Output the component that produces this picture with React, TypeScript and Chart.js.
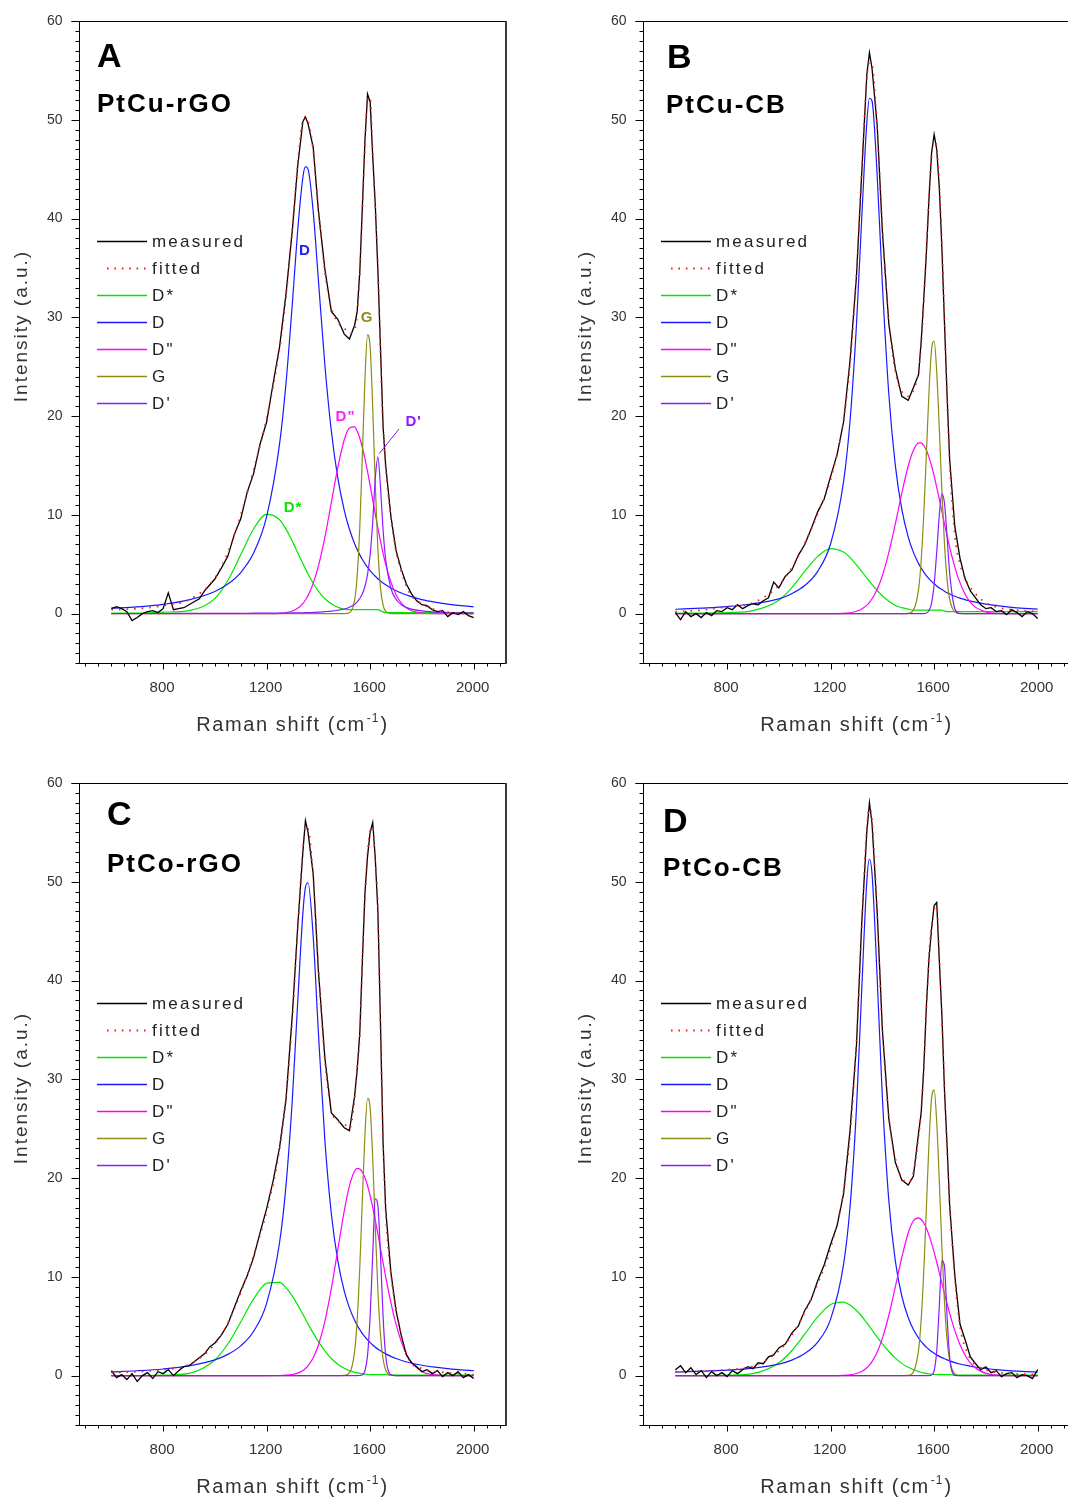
import React, { useEffect, useRef } from "react";
import { Chart, registerables } from "chart.js";

Chart.register(...registerables);

// ---------- shared axes / grids ----------
const X = [600, 700, 800, 900, 1000, 1050, 1100, 1150, 1200, 1250, 1275, 1300, 1320, 1340, 1350, 1360, 1380, 1400, 1425, 1450, 1475, 1500, 1520, 1540, 1550, 1560, 1570, 1580, 1590, 1600, 1610, 1620, 1630, 1640, 1650, 1660, 1680, 1700, 1725, 1750, 1800, 1850, 1900, 1950, 2000];
const MX = [600, 620, 640, 660, 680, 700, 720, 740, 760, 780, 800, 820, 840, 860, 880, 900, 920, 940, 960, 980, 1000, 1025, 1050, 1075, 1100, 1125, 1150, 1175, 1200, 1225, 1250, 1275, 1300, 1320, 1340, 1350, 1360, 1380, 1400, 1425, 1450, 1475, 1500, 1520, 1540, 1550, 1560, 1570, 1580, 1590, 1600, 1610, 1620, 1630, 1640, 1650, 1660, 1680, 1700, 1720, 1740, 1760, 1780, 1800, 1820, 1840, 1860, 1880, 1900, 1920, 1940, 1960, 1980, 2000];

const X_MIN = 475, X_MAX = 2125, Y_MIN = -5, Y_MAX = 60;
const X_LABEL_TICKS = [800, 1200, 1600, 2000];
const Y_LABEL_TICKS = [0, 10, 20, 30, 40, 50, 60];
const X_MINOR = { from: 500, to: 2100, step: 50 };
const Y_MINOR_STEP = 1;
const SERIES_LABELS = ["measured", "fitted", "D*", "D", 'D"', "G", "D'"];

// ---------- Panel A : PtCu-rGO ----------
const A_MEASURED = [0.5, 0.7, 0.5, 0.2, -0.7, -0.4, 0.0, 0.2, 0.3, 0.1, 0.5, 2.1, 0.4, 0.5, 0.6, 0.9, 1.2, 1.5, 2.3, 2.9, 3.5,
  4.6, 5.8, 8.0, 9.6, 12.3, 14.2, 17.2, 19.4, 23.3, 27.0, 32.4, 39.0,
  45.3, 49.8, 50.3, 49.6, 47.2, 40.8,
  34.9, 30.6, 29.8, 28.3,
  27.8, 29.2,
  30.6, 34.6, 41.2, 47.9, 52.6, 51.8, 46.3, 41.3, 34.7, 26.9, 19.0, 15.0,
  9.9, 6.4, 4.5, 3.0, 2.0, 1.3, 0.9, 0.8, 0.4, 0.2, 0.3, -0.3, 0.1, -0.1, 0.2, -0.2, -0.4];
const A_FITTED = [0.4, 0.5, 0.8, 1.4, 3.6, 6.2, 10.0, 14.6, 19.8, 26.8, 32.1, 39.2, 45.6, 50.0, 50.3, 49.9, 46.9, 41.0, 34.6, 31.0, 29.5, 28.9, 28.4, 28.7,
  30.4, 34.4, 40.8, 47.6, 51.9, 52.3, 46.5, 41.0, 35.0, 26.5, 18.8, 14.8, 9.8, 6.3, 3.9, 2.2, 1.0, 0.4, 0.15, 0.05, 0.0];
const A_DSTAR = [0.05, 0.05, 0.15, 0.3, 1.52, 3.35, 5.96, 8.59, 10.04, 9.5, 8.55, 7.29, 6.18, 5.07, 4.53, 4.02, 3.08, 2.28, 1.5, 1.0, 0.65, 0.45, 0.4, 0.4,
  0.4, 0.4, 0.4, 0.4, 0.4, 0.4, 0.4, 0.4, 0.4, 0.3, 0.15, 0.1, 0.1, 0.1, 0.1, 0.1, 0.1, 0.1, 0.1, 0.1, 0.1];
const A_D = [0.55, 0.68, 0.94, 1.39, 2.24, 2.99, 4.16, 6.15, 9.82, 17.18, 23.36, 31.6, 38.8, 44.15, 45.25, 45.0, 40.7, 33.8, 25.2, 18.5, 13.74, 10.45, 8.54, 7.08,
  6.48, 5.95, 5.48, 5.06, 4.69, 4.35, 4.05, 3.78, 3.53, 3.30, 3.10, 2.91, 2.59, 2.31, 2.03, 1.79, 1.42, 1.16, 0.96, 0.81, 0.69];
const A_D2 = [0, 0, 0, 0, 0, 0, 0, 0, 0, 0.03, 0.1, 0.26, 0.54, 1.02, 1.38, 1.82, 3.06, 4.8, 7.73, 11.23, 14.78, 17.6, 18.8, 18.9,
  18.46, 17.76, 16.82, 15.67, 14.38, 12.98, 11.52, 10.07, 8.66, 7.33, 6.11, 5.01, 3.21, 1.92, 0.93, 0.41, 0.06, 0, 0, 0, 0];
const A_G = [0, 0, 0, 0, 0, 0, 0, 0, 0, 0, 0, 0, 0, 0, 0, 0, 0, 0, 0, 0, 0, 0, 0.09, 1.36,
  3.86, 8.77, 16.08, 23.74, 28.22, 27.03, 20.85, 12.95, 6.48, 2.61, 0.85, 0.22, 0, 0, 0, 0, 0, 0, 0, 0, 0];
const A_DP = [0.01, 0.01, 0.01, 0.02, 0.02, 0.03, 0.03, 0.04, 0.04, 0.05, 0.06, 0.07, 0.08, 0.09, 0.1, 0.1, 0.12, 0.15, 0.2, 0.25, 0.34, 0.47, 0.65, 0.95,
  1.19, 1.53, 2.02, 2.77, 3.97, 5.97, 9.28, 13.7, 15.87, 12.83, 8.5, 5.48, 2.59, 1.45, 0.83, 0.53, 0.27, 0.16, 0.11, 0.08, 0.06];

// ---------- Panel B : PtCu-CB ----------
const B_MEASURED = [0.1, -0.6, 0.2, -0.3, 0.0, -0.4, 0.1, -0.2, 0.3, 0.2, 0.6, 0.4, 0.9, 0.5, 0.8, 1.0, 0.9, 1.3, 1.6, 3.2, 2.6,
  3.8, 4.4, 5.9, 7.0, 8.6, 10.3, 11.6, 13.9, 16.1, 19.4, 25.6, 34.2,
  44.5, 54.6, 56.8, 55.2, 49.4, 38.7,
  29.3, 24.8, 22.0, 21.6,
  22.9, 24.2,
  27.6, 31.9, 36.5, 42.0, 46.6, 48.5, 47.0, 43.1, 37.0, 29.4, 22.1, 15.6,
  8.8, 5.6, 3.5, 2.3, 1.6, 0.9, 0.5, 0.6, 0.2, 0.3, -0.1, 0.4, 0.1, -0.3, 0.2, 0.0, -0.5];
const B_FITTED = [0.2, 0.35, 0.7, 1.1, 2.85, 4.65, 7.1, 10.1, 13.6, 19.6, 25.3, 34.5, 44.7, 54.2, 55.8, 55.6, 49.1, 39.0, 29.6, 24.5, 22.5, 22.0, 22.6, 24.6,
  27.3, 31.6, 36.9, 42.3, 46.4, 48.0, 47.2, 43.5, 37.6, 29.8, 21.8, 15.2, 7.9, 5.0, 3.3, 2.3, 1.1, 0.6, 0.4, 0.3, 0.2];
const B_DSTAR = [0.05, 0.05, 0.1, 0.3, 1.35, 2.63, 4.27, 5.80, 6.58, 6.23, 5.67, 4.93, 4.27, 3.60, 3.27, 2.94, 2.34, 1.81, 1.25, 0.83, 0.6, 0.45, 0.35, 0.35,
  0.35, 0.35, 0.35, 0.35, 0.35, 0.35, 0.35, 0.35, 0.35, 0.25, 0.2, 0.2, 0.2, 0.2, 0.2, 0.2, 0.2, 0.2, 0.2, 0.2, 0.2];
const B_D = [0.44, 0.55, 0.7, 1.0, 1.50, 2.02, 2.84, 4.28, 7.07, 13.36, 19.5, 29.3, 39.93, 49.76, 52.18, 51.9, 44.3, 33.33, 22.18, 15.01, 10.57, 7.75, 6.2, 5.06,
  4.6, 4.2, 3.85, 3.54, 3.26, 3.02, 2.80, 2.60, 2.43, 2.27, 2.12, 1.99, 1.76, 1.57, 1.37, 1.21, 0.96, 0.78, 0.64, 0.54, 0.46];
const B_D2 = [0, 0, 0, 0, 0, 0, 0, 0, 0, 0.03, 0.09, 0.24, 0.47, 0.86, 1.14, 1.50, 2.47, 3.85, 6.19, 9.08, 12.19, 14.97, 16.54, 17.29,
  17.29, 17.02, 16.54, 15.85, 14.97, 13.94, 12.79, 11.58, 10.33, 9.08, 7.87, 6.73, 4.71, 3.11, 1.71, 0.86, 0.17, 0.02, 0, 0, 0];
const B_G = [0, 0, 0, 0, 0, 0, 0, 0, 0, 0, 0, 0, 0, 0, 0, 0, 0, 0, 0, 0, 0, 0.03, 0.35, 2.5,
  5.41, 10.06, 16.15, 22.37, 26.71, 27.6, 24.45, 18.73, 12.38, 7.06, 3.47, 1.47, 0.17, 0, 0, 0, 0, 0, 0, 0, 0];
const B_DP = [0, 0, 0, 0, 0, 0, 0, 0, 0, 0, 0, 0, 0, 0, 0, 0, 0, 0, 0, 0, 0, 0, 0, 0,
  0, 0, 0.06, 0.29, 1.06, 2.95, 6.24, 9.99, 12.13, 11.17, 7.79, 4.12, 0.5, 0.02, 0, 0, 0, 0, 0, 0, 0];

// ---------- Panel C : PtCo-rGO ----------
const C_MEASURED = [0.5, -0.2, 0.1, -0.4, 0.2, -0.6, 0.0, 0.3, -0.3, 0.4, 0.2, 0.6, 0.0, 0.5, 0.9, 1.0, 1.4, 1.8, 2.2, 2.9, 3.3,
  4.1, 5.2, 6.9, 8.6, 10.1, 12.0, 14.5, 16.9, 19.7, 23.1, 28.0, 36.8,
  45.4, 53.0, 56.2, 55.0, 50.8, 41.0,
  32.2, 26.6, 25.9, 25.1,
  24.8, 28.3,
  31.0, 34.7, 42.0, 48.9, 52.6, 55.0, 56.0, 52.3, 47.0, 35.6, 23.6, 16.9,
  10.5, 6.6, 4.1, 2.1, 1.3, 0.9, 0.4, 0.6, 0.2, 0.5, -0.1, 0.3, 0.0, 0.4, -0.2, 0.1, -0.3];
const C_FITTED = [0.3, 0.4, 0.6, 1.1, 3.2, 5.3, 8.4, 12.2, 16.6, 22.9, 28.2, 36.4, 45.1, 53.4, 55.6, 55.4, 50.5, 41.3, 31.9, 26.9, 25.8, 25.5, 25.0, 28.0,
  31.2, 34.4, 42.3, 48.4, 53.0, 55.2, 55.5, 52.0, 47.4, 35.2, 23.9, 16.6, 10.3, 6.8, 3.6, 1.6, 0.7, 0.4, 0.3, 0.2, 0.1];
const C_DSTAR = [0, 0, 0.05, 0.23, 1.58, 3.2, 5.43, 7.77, 9.34, 9.44, 8.89, 8.02, 7.16, 6.21, 5.73, 5.24, 4.30, 3.44, 2.5, 1.73, 1.15, 0.74, 0.5, 0.33,
  0.27, 0.22, 0.18, 0.15, 0.12, 0.1, 0.1, 0.1, 0.1, 0.1, 0.1, 0.1, 0.05, 0.05, 0.05, 0.05, 0.05, 0.05, 0.05, 0.05, 0.05];
const C_D = [0.37, 0.49, 0.67, 0.99, 1.60, 2.15, 3.01, 4.49, 7.32, 13.48, 19.29, 28.26, 37.76, 46.8, 49.43, 49.9, 44.44, 34.78, 23.87, 16.41, 11.64, 8.56, 6.86, 5.60,
  5.09, 4.65, 4.26, 3.92, 3.61, 3.34, 3.10, 2.88, 2.68, 2.51, 2.35, 2.20, 1.95, 1.73, 1.51, 1.33, 1.05, 0.85, 0.71, 0.59, 0.51];
const C_D2 = [0, 0, 0, 0, 0, 0, 0, 0, 0, 0.01, 0.04, 0.11, 0.25, 0.51, 0.72, 0.99, 1.81, 3.08, 5.48, 8.80, 12.75, 16.68, 19.21, 20.71,
  20.99, 20.93, 20.61, 20.04, 19.22, 18.21, 17.03, 15.72, 14.32, 12.89, 11.45, 10.03, 7.42, 5.21, 3.11, 1.72, 0.41, 0.07, 0, 0, 0];
const C_G = [0, 0, 0, 0, 0, 0, 0, 0, 0, 0, 0, 0, 0, 0, 0, 0, 0, 0, 0, 0, 0, 0.02, 0.27, 2.46,
  5.67, 10.98, 17.87, 24.43, 28.08, 27.12, 22.01, 15.01, 8.61, 4.15, 1.68, 0.57, 0.04, 0, 0, 0, 0, 0, 0, 0, 0];
const C_DP = [0, 0, 0, 0, 0, 0, 0, 0, 0, 0, 0, 0, 0, 0, 0, 0, 0, 0, 0, 0, 0, 0, 0, 0,
  0, 0.01, 0.08, 0.49, 2.05, 6.0, 12.24, 17.9, 17.2, 12.24, 6.0, 2.05, 0.08, 0, 0, 0, 0, 0, 0, 0, 0];

// ---------- Panel D : PtCo-CB ----------
const D_MEASURED = [0.6, 1.0, 0.3, 0.8, 0.1, 0.5, -0.2, 0.4, 0.0, 0.3, -0.1, 0.5, 0.2, 0.6, 0.9, 0.7, 1.3, 1.2, 1.9, 2.1, 2.8,
  3.2, 4.3, 5.0, 6.6, 7.7, 9.6, 11.2, 13.3, 15.2, 18.4, 24.8, 33.5,
  45.7, 55.1, 58.0, 55.9, 46.9, 35.0,
  26.0, 21.6, 19.8, 19.3,
  20.2, 24.6,
  26.6, 31.2, 37.4, 42.2, 45.2, 47.6, 47.9, 42.0, 36.5, 28.9, 23.3, 17.2,
  10.1, 5.2, 3.6, 1.9, 1.2, 0.6, 0.9, 0.3, 0.5, -0.1, 0.2, 0.3, -0.2, 0.1, 0.0, -0.3, 0.6];
const D_FITTED = [0.4, 0.45, 0.6, 0.95, 2.5, 4.1, 6.4, 9.3, 12.9, 18.7, 24.3, 33.9, 45.3, 55.6, 57.4, 56.3, 46.5, 35.2, 26.2, 22.0, 20.0, 19.6, 20.6, 24.2,
  26.9, 30.9, 36.9, 42.6, 45.5, 47.2, 47.5, 42.3, 36.2, 29.2, 23.0, 17.5, 9.8, 5.0, 2.5, 1.35, 0.6, 0.3, 0.2, 0.15, 0.1];
const D_DSTAR = [0, 0, 0.05, 0.21, 1.30, 2.52, 4.19, 5.94, 7.2, 7.45, 7.15, 6.59, 6.01, 5.33, 4.98, 4.62, 3.90, 3.22, 2.44, 1.77, 1.24, 0.84, 0.59, 0.41,
  0.34, 0.28, 0.22, 0.18, 0.14, 0.12, 0.1, 0.1, 0.1, 0.1, 0.1, 0.1, 0.05, 0.05, 0.05, 0.05, 0.05, 0.05, 0.05, 0.05, 0.05];
const D_D = [0.35, 0.45, 0.55, 0.75, 1.16, 1.57, 2.23, 3.39, 5.72, 11.26, 17.07, 27.11, 38.94, 50.13, 52.28, 50.83, 40.22, 28.16, 17.69, 11.62, 8.06, 5.86, 4.67, 3.80,
  3.45, 3.15, 2.88, 2.65, 2.44, 2.26, 2.10, 1.95, 1.82, 1.70, 1.59, 1.49, 1.32, 1.18, 1.03, 0.90, 0.72, 0.58, 0.48, 0.41, 0.35];
const D_D2 = [0, 0, 0, 0, 0, 0, 0, 0, 0, 0.03, 0.08, 0.21, 0.42, 0.80, 1.07, 1.42, 2.39, 3.77, 6.11, 8.98, 11.96, 14.46, 15.68, 15.98,
  15.81, 15.45, 14.92, 14.23, 13.41, 12.48, 11.48, 10.43, 9.37, 8.31, 7.28, 6.30, 4.55, 3.13, 1.84, 1.0, 0.23, 0.04, 0, 0, 0];
const D_G = [0, 0, 0, 0, 0, 0, 0, 0, 0, 0, 0, 0, 0, 0, 0, 0, 0, 0, 0, 0, 0, 0.03, 0.36, 2.63,
  5.68, 10.57, 16.97, 23.5, 28.06, 28.91, 25.68, 19.68, 13.0, 7.41, 3.64, 1.55, 0.18, 0, 0, 0, 0, 0, 0, 0, 0];
const D_DP = [0, 0, 0, 0, 0, 0, 0, 0, 0, 0, 0, 0, 0, 0, 0, 0, 0, 0, 0, 0, 0, 0, 0, 0,
  0, 0, 0, 0, 0.06, 0.49, 2.46, 7.08, 11.67, 11.04, 5.99, 1.87, 0.03, 0, 0, 0, 0, 0, 0, 0, 0];

// peak labels drawn inside panel A (data coordinates)
const A_NOTES = [
  { text: "D", x: 1348, y: 36.7, color: "#2020ff" },
  { text: "G", x: 1588, y: 29.9, color: "#8c8c14" },
  { text: 'D"', x: 1505, y: 19.9, color: "#ff20ff" },
  { text: "D'", x: 1768, y: 19.4, color: "#8a1cff" },
  { text: "D*", x: 1302, y: 10.7, color: "#10e010" },
];
const A_POINTER = { from: [1712, 18.7], to: [1635, 16.2], color: "#8a1cff" };

const COLORS = {
  measured: "#000000",
  fitted: "#ff1a1a",
  dstar: "#00e600",
  d: "#1a1aff",
  d2: "#ff00ff",
  g: "#8c8c14",
  dp: "#8a1cff",
};

const PANELS = [
  { key: "A", name: "PtCu-rGO", left: 0, top: 0, letterPos: [97, 67], namePos: [97, 112],
    measured: A_MEASURED, fitted: A_FITTED, dstar: A_DSTAR, d: A_D, d2: A_D2, g: A_G, dp: A_DP, notes: A_NOTES, pointer: A_POINTER },
  { key: "B", name: "PtCu-CB", left: 564, top: 0, letterPos: [103, 68], namePos: [102, 113],
    measured: B_MEASURED, fitted: B_FITTED, dstar: B_DSTAR, d: B_D, d2: B_D2, g: B_G, dp: B_DP, notes: [], pointer: null },
  { key: "C", name: "PtCo-rGO", left: 0, top: 762, letterPos: [107, 63], namePos: [107, 110],
    measured: C_MEASURED, fitted: C_FITTED, dstar: C_DSTAR, d: C_D, d2: C_D2, g: C_G, dp: C_DP, notes: [], pointer: null },
  { key: "D", name: "PtCo-CB", left: 564, top: 762, letterPos: [99, 70], namePos: [99, 114],
    measured: D_MEASURED, fitted: D_FITTED, dstar: D_DSTAR, d: D_D, d2: D_D2, g: D_G, dp: D_DP, notes: [], pointer: null },
];

const FONT = '"Liberation Sans", Arial, Helvetica, sans-serif';
const TEXT = "#333333";
const CW = 534, CH = 762;

function setFont(ctx: any, size: number, weight = "normal", spacing = 0) {
  ctx.font = `${weight} ${size}px ${FONT}`;
  try { ctx.letterSpacing = `${spacing}px`; } catch (e) { /* ignore */ }
}

const toPts = (xs: number[], ys: number[]) => xs.map((x, i) => ({ x, y: ys[i] }));

const decorPlugin = {
  id: "decor",
  afterDraw(chart: any, _args: any, opts: any) {
    const p = opts.panel;
    if (!p) return;
    const { ctx, chartArea: ca } = chart;
    const xs = chart.scales.x, ys = chart.scales.y;
    ctx.save();
    const seg = (x1: number, y1: number, x2: number, y2: number) => {
      ctx.beginPath(); ctx.moveTo(x1, y1); ctx.lineTo(x2, y2); ctx.stroke();
    };
    const L = Math.round(ca.left) + 0.5;
    const B = Math.round(ca.bottom) + 0.5;
    const T = Math.round(ca.top) + 0.5;
    const R = Math.round(ca.right);

    // frame
    ctx.strokeStyle = "#000"; ctx.lineWidth = 1;
    seg(L, T, L, B); seg(L, B, R, B); seg(L - 8, T, R, T);
    ctx.strokeStyle = "#3a3a3a"; ctx.lineWidth = 2; seg(R, T - 0.5, R, B + 0.5);

    // ticks
    ctx.strokeStyle = "#000"; ctx.lineWidth = 1;
    for (let v = Y_MIN; v <= Y_MAX; v += Y_MINOR_STEP) {
      const y = Math.round(ys.getPixelForValue(v)) + 0.5;
      const len = Y_LABEL_TICKS.includes(v) ? 8 : 4;
      seg(L - len, y, L, y);
    }
    for (let v = X_MINOR.from; v <= X_MINOR.to; v += X_MINOR.step) {
      const x = Math.round(xs.getPixelForValue(v)) + 0.5;
      const len = X_LABEL_TICKS.includes(v) ? 6 : 3;
      seg(x, B, x, B + len);
    }

    // tick labels
    ctx.fillStyle = TEXT;
    setFont(ctx, 14);
    ctx.textAlign = "right"; ctx.textBaseline = "middle";
    Y_LABEL_TICKS.forEach((v) => ctx.fillText(String(v), L - 17, ys.getPixelForValue(v)));
    setFont(ctx, 15);
    ctx.textAlign = "center";
    X_LABEL_TICKS.forEach((v) => ctx.fillText(String(v), xs.getPixelForValue(v) - 1, B + 24.5));

    // axis titles
    setFont(ctx, 19, "normal", 2);
    ctx.save();
    ctx.translate(22, 326);
    ctx.rotate(-Math.PI / 2);
    ctx.textAlign = "center"; ctx.textBaseline = "middle";
    ctx.fillText("Intensity (a.u.)", 0, 0);
    ctx.restore();

    ctx.textAlign = "left"; ctx.textBaseline = "alphabetic";
    setFont(ctx, 20, "normal", 1.6);
    const t1 = "Raman shift (cm", t3 = ")";
    const w1 = ctx.measureText(t1).width;
    const w3 = ctx.measureText(t3).width;
    setFont(ctx, 12, "normal", 1);
    const t2 = "-1";
    const w2 = ctx.measureText(t2).width;
    const total = w1 + w2 + 2 + w3;
    let sx = (ca.left + ca.right) / 2 - total / 2;
    const by = 731;
    setFont(ctx, 20, "normal", 1.6);
    ctx.fillText(t1, sx, by);
    setFont(ctx, 12, "normal", 1);
    ctx.fillText(t2, sx + w1 + 1, by - 9);
    setFont(ctx, 20, "normal", 1.6);
    ctx.fillText(t3, sx + w1 + w2 + 2, by);

    // panel letter and sample name
    ctx.fillStyle = "#000";
    setFont(ctx, 34, "bold", 0);
    ctx.fillText(p.key, p.letterPos[0], p.letterPos[1]);
    setFont(ctx, 26, "bold", 2);
    ctx.fillText(p.name, p.namePos[0], p.namePos[1]);

    // legend
    const styles = [
      { color: COLORS.measured, dash: [] as number[], x0: 97 },
      { color: COLORS.fitted, dash: [1.6, 5.8], x0: 107 },
      { color: COLORS.dstar, dash: [], x0: 97 },
      { color: COLORS.d, dash: [], x0: 97 },
      { color: COLORS.d2, dash: [], x0: 97 },
      { color: COLORS.g, dash: [], x0: 97 },
      { color: COLORS.dp, dash: [], x0: 97 },
    ];
    SERIES_LABELS.forEach((label, i) => {
      const y = 241 + 27 * i;
      const st = styles[i];
      ctx.strokeStyle = st.color;
      ctx.lineWidth = i === 1 ? 1.8 : 1.6;
      ctx.setLineDash(st.dash);
      seg(st.x0, y + 0.5, 147, y + 0.5);
      ctx.setLineDash([]);
      ctx.fillStyle = "#222";
      setFont(ctx, 17, "normal", 2.2);
      ctx.textAlign = "left"; ctx.textBaseline = "middle";
      ctx.fillText(label, 152, y + 1);
    });

    // peak annotations
    if (p.pointer) {
      ctx.strokeStyle = p.pointer.color; ctx.lineWidth = 1;
      seg(xs.getPixelForValue(p.pointer.from[0]), ys.getPixelForValue(p.pointer.from[1]),
        xs.getPixelForValue(p.pointer.to[0]), ys.getPixelForValue(p.pointer.to[1]));
    }
    p.notes.forEach((n: any) => {
      ctx.fillStyle = n.color;
      setFont(ctx, 15, "bold", 1);
      ctx.textAlign = "center"; ctx.textBaseline = "middle";
      ctx.fillText(n.text, xs.getPixelForValue(n.x), ys.getPixelForValue(n.y));
    });

    ctx.restore();
  },
};

function line(label: string, xs: number[], ys: number[], color: string, order: number, extra: any = {}) {
  return {
    label,
    data: toPts(xs, ys),
    borderColor: color,
    backgroundColor: color,
    borderWidth: 1.2,
    pointRadius: 0,
    showLine: true,
    fill: false,
    order,
    ...extra,
  };
}

function Panel({ p }: { p: any }) {
  const ref = useRef<HTMLCanvasElement | null>(null);
  useEffect(() => {
    if (!ref.current) return;
    const smooth = { cubicInterpolationMode: "monotone" };
    const chart = new Chart(ref.current, {
      type: "scatter",
      data: {
        datasets: [
          line("fitted", X, p.fitted, COLORS.fitted, 0, { ...smooth, borderDash: [1.6, 6], borderWidth: 1.7 }),
          line("measured", MX, p.measured, COLORS.measured, 1, { borderWidth: 1.3 }),
          line("D'", X, p.dp, COLORS.dp, 2, smooth),
          line("G", X, p.g, COLORS.g, 3, smooth),
          line('D"', X, p.d2, COLORS.d2, 4, smooth),
          line("D", X, p.d, COLORS.d, 5, smooth),
          line("D*", X, p.dstar, COLORS.dstar, 6, smooth),
        ],
      },
      options: {
        animation: false,
        responsive: false,
        devicePixelRatio: 1,
        events: [],
        layout: { padding: { left: 79, top: 21, right: 28, bottom: 99 } },
        scales: {
          x: { type: "linear", min: X_MIN, max: X_MAX, display: false },
          y: { type: "linear", min: Y_MIN, max: Y_MAX, display: false },
        },
        plugins: {
          legend: { display: false },
          tooltip: { enabled: false },
          title: { display: false },
          decor: { panel: p },
        },
      },
      plugins: [decorPlugin],
    } as any);
    return () => chart.destroy();
  }, [p]);
  return (
    <canvas
      ref={ref}
      width={CW}
      height={CH}
      style={{ position: "absolute", left: p.left, top: p.top, width: CW, height: CH }}
    />
  );
}

export default function App() {
  return (
    <div style={{ position: "absolute", left: 0, top: 0, width: 1068, height: 1501, overflow: "hidden", background: "#fff" }}>
      {PANELS.map((p) => (
        <Panel key={p.key} p={p} />
      ))}
    </div>
  );
}
